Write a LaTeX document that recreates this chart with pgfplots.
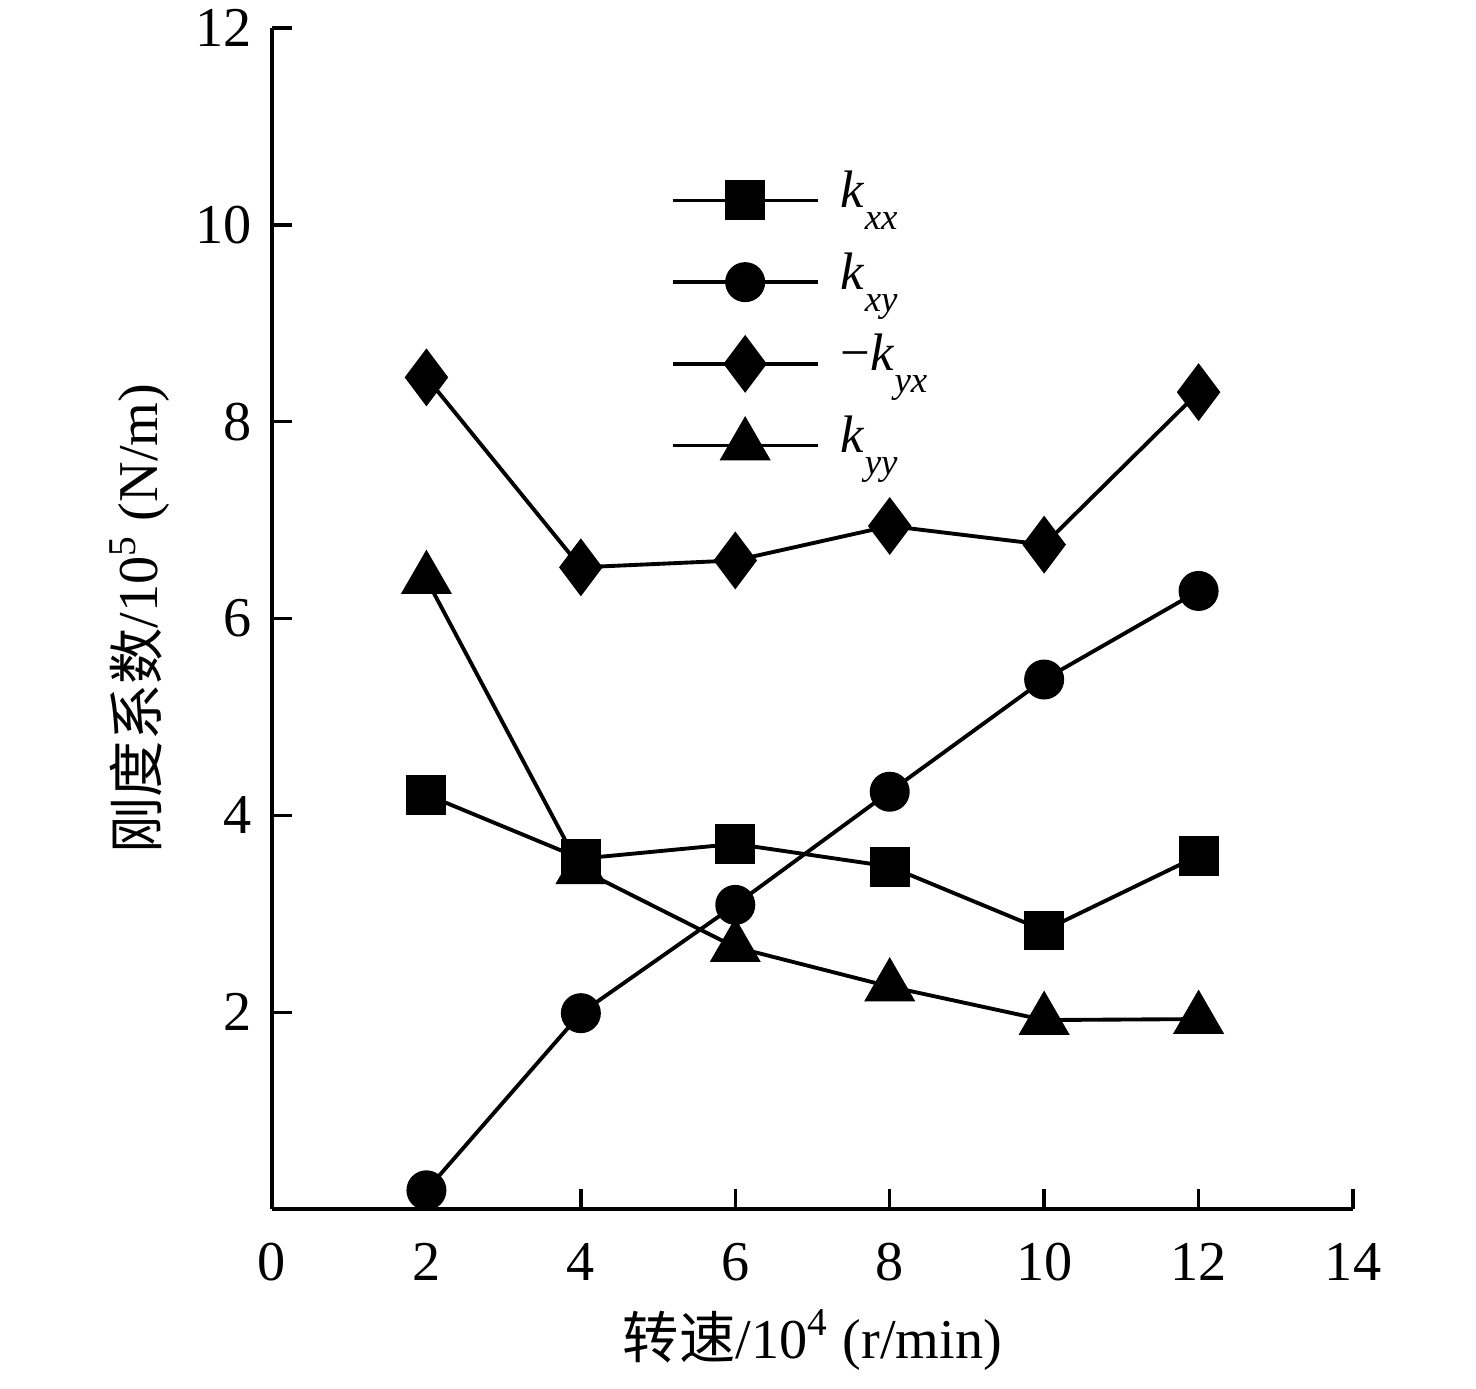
\documentclass[border=0pt]{standalone}
\usepackage{pgfplots}
\pgfplotsset{compat=1.18}
\usepackage{fontspec}
\setmainfont{Liberation Serif}
\newfontfamily\cjk{Noto Sans CJK SC}
\newcommand{\sub}[1]{\raisebox{-2.2mm}{\fontsize{10.5pt}{11pt}\selectfont\textit{#1}}}
\begin{document}
\fontsize{16pt}{19pt}\selectfont
\begin{tikzpicture}
\begin{axis}[
  name=ax,
  scale only axis,
  width=108.1mm, height=118.1mm,
  xmin=0, xmax=14, ymin=0, ymax=12,
  xtick={0,2,...,14}, ytick={2,4,...,12},
  axis lines=left,
  axis line style={-, line width=0.95pt},
  every tick/.style={black, line width=0.95pt},
  major tick length=2mm,
  tick align=inside,
  /pgf/number format/assume math mode=true,
  tick label style={font=\fontsize{16pt}{19pt}\selectfont, inner sep=0pt},
  xticklabel style={anchor=base, yshift=-7.1mm},
  yticklabel style={anchor=east, xshift=-2mm},
  xlabel={{\cjk 转速}/10\textsuperscript{4} (r/min)},
  ylabel={{\cjk 刚度系数}/10\textsuperscript{5} (N/m)},
  label style={font=\fontsize{16pt}{19pt}\selectfont},
  every axis x label/.style={at={(axis description cs:0.5,0)}, anchor=center, yshift=-13.1mm},
  every axis y label/.style={at={(axis description cs:0,0.5)}, anchor=center, rotate=90, yshift=13.2mm},
  reverse legend,
  legend style={draw=none, fill=none, inner sep=0pt,
    at={(axis cs:5.155,10.57)}, anchor=north west,
    font=\fontsize{15pt}{18pt}\selectfont,
    row sep=1.97mm,
    nodes={inner sep=0pt, text height=3.8mm, text depth=2.4mm},
    /tikz/every odd column/.append style={column sep=2.1mm}},
  legend cell align=left,
  legend image code/.code={\draw[mark repeat=2, mark phase=2, #1] plot coordinates {(0mm,0mm) (7.25mm,0mm) (14.5mm,0mm)};},
  mystyle/.style={black, line width=1.1pt, mark options={solid, fill=black, line width=0.85pt}},
]
\addplot[mystyle, mark=triangle*, mark size=2.65mm] coordinates {(2,6.40) (4,3.45) (6,2.66) (8,2.26) (10,1.92) (12,1.93)};
\addlegendentry{\textit{k}\sub{yy}}
\addplot[mystyle, mark=diamond*, mark size=2.65mm] coordinates {(2,8.45) (4,6.52) (6,6.59) (8,6.94) (10,6.75) (12,8.30)};
\addlegendentry{−\textit{k}\sub{yx}}
\addplot[mystyle, mark=*, mark size=1.85mm] coordinates {(2,0.19) (4,1.99) (6,3.09) (8,4.24) (10,5.38) (12,6.28)};
\addlegendentry{\textit{k}\sub{xy}}
\addplot[mystyle, mark=square*, mark size=1.85mm] coordinates {(2,4.21) (4,3.56) (6,3.71) (8,3.48) (10,2.83) (12,3.59)};
\addlegendentry{\textit{k}\sub{xx}}
\end{axis}
\path (ax.south west) ++(-27.2mm,-16.8mm) rectangle ++(147.6mm,137.7mm);
\end{tikzpicture}
\end{document}
